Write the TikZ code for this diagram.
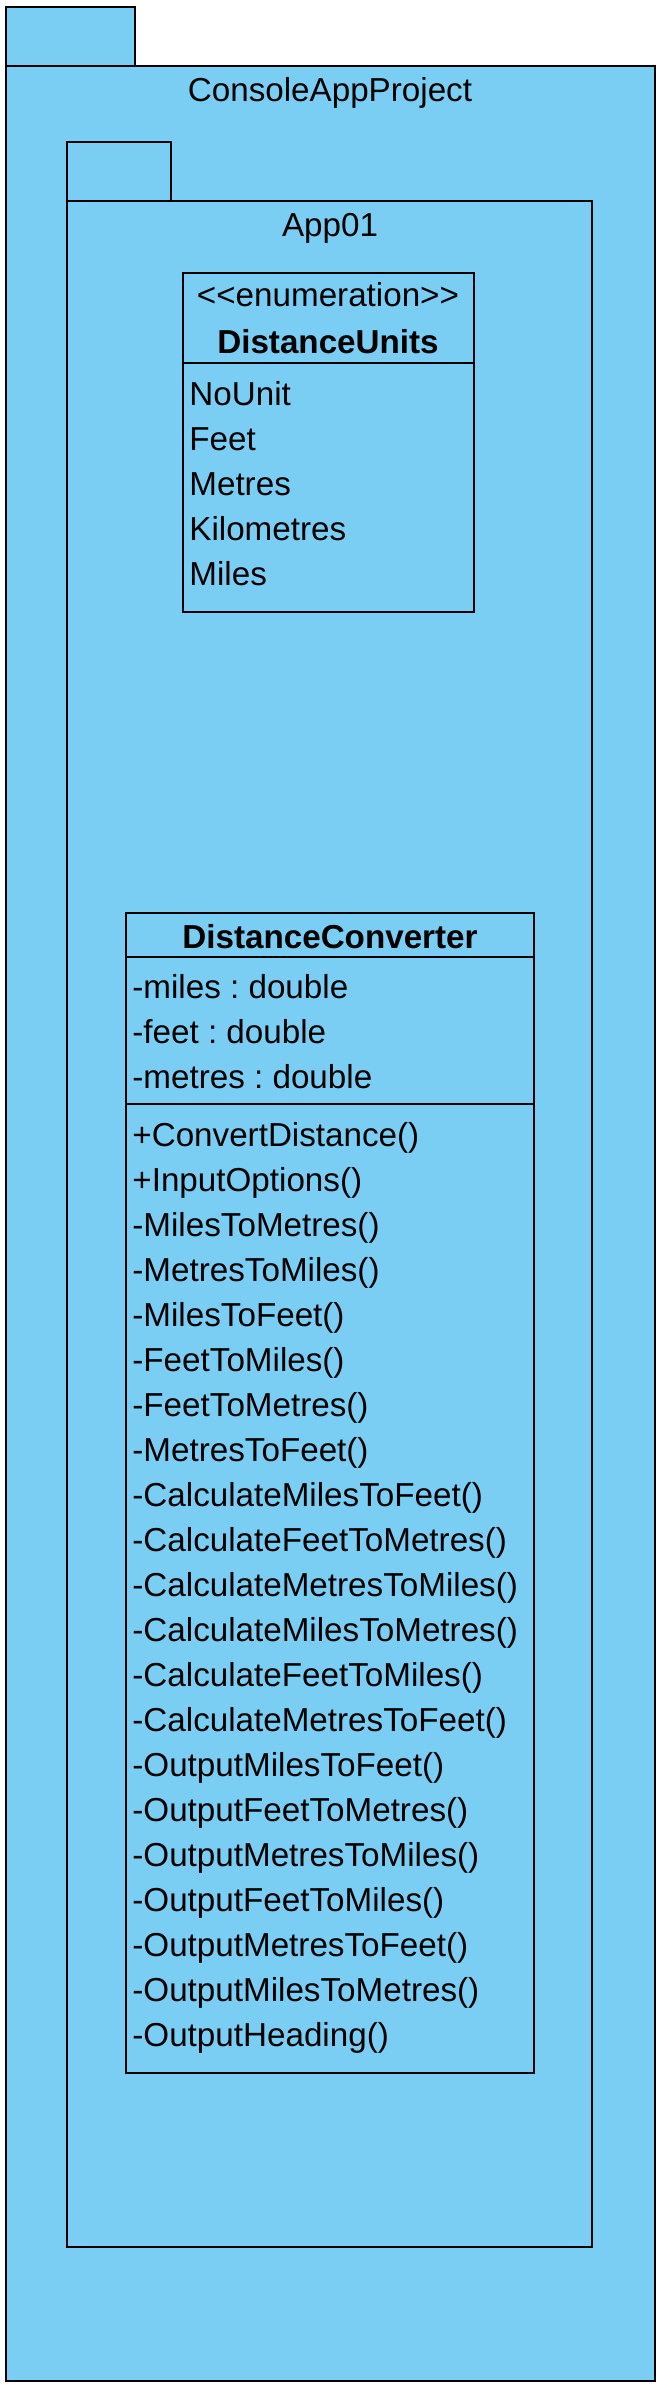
\documentclass[tikz,border=0pt]{standalone}
\usepackage{fontspec}
\setmainfont{Liberation Sans}
\frenchspacing
\definecolor{PackageBlue}{HTML}{7ACEF4}

\begin{document}
\begin{tikzpicture}[x=1pt,y=-1pt,line width=2.8pt,
  pkg/.style={draw,fill=PackageBlue},
  cls/.style={draw},
  lbl/.style={inner sep=0pt,anchor=base west,font=\fontsize{33.2}{40}\selectfont},
  ttl/.style={inner sep=0pt,anchor=base,font=\fontsize{33.2}{40}\selectfont}]
  \useasboundingbox (0,0) rectangle (666,2397);
  % ConsoleAppProject package
  \draw[pkg] (6,7) rectangle (135,66);
  \draw[pkg] (6,66) rectangle (655,2381);
  \node[ttl] (proj) at (330,102) {ConsoleAppProject};
  % App01 package
  \draw[pkg] (67,142) rectangle (171,201);
  \draw[pkg] (67,201) rectangle (592,2247);
  \node[ttl] (app) at (330,237) {App01};
  % enumeration
  \draw[cls] (183,273) rectangle (474,612);
  \draw (183,363) -- (474,363);
  \node[ttl] (stereo) at (328,307) {<{}<enumeration>{}>};
  \node[ttl,font=\fontsize{33.2}{40}\selectfont\bfseries] (units) at (328,353) {DistanceUnits};
  \node[lbl] (nounit) at (188,405) {NoUnit};
  \node[lbl] (feet) at (188,450) {Feet};
  \node[lbl] (metres) at (188,495) {Metres};
  \node[lbl] (km) at (188,540) {Kilometres};
  \node[lbl] (miles) at (188,585) {Miles};
  % converter class
  \draw[cls] (126,913) rectangle (534,2073);
  \draw (126,957) -- (534,957);
  \draw (126,1104) -- (534,1104);
  \node[ttl,font=\fontsize{33.2}{40}\selectfont\bfseries] (conv) at (330,948) {DistanceConverter};
  \node[lbl] (amiles) at (131,998) {-miles : double};
  \node[lbl] (afeet) at (131,1043) {-feet : double};
  \node[lbl] (ametres) at (131,1088) {-metres : double};
  \node[lbl] (m01) at (131,1146) {+ConvertDistance()};
  \node[lbl] (m02) at (131,1191) {+InputOptions()};
  \node[lbl] (m03) at (131,1236) {-MilesToMetres()};
  \node[lbl] (m04) at (131,1281) {-MetresToMiles()};
  \node[lbl] (m05) at (131,1326) {-MilesToFeet()};
  \node[lbl] (m06) at (131,1371) {-FeetToMiles()};
  \node[lbl] (m07) at (131,1416) {-FeetToMetres()};
  \node[lbl] (m08) at (131,1461) {-MetresToFeet()};
  \node[lbl] (m09) at (131,1506) {-CalculateMilesToFeet()};
  \node[lbl] (m10) at (131,1551) {-CalculateFeetToMetres()};
  \node[lbl] (m11) at (131,1596) {-CalculateMetresToMiles()};
  \node[lbl] (m12) at (131,1641) {-CalculateMilesToMetres()};
  \node[lbl] (m13) at (131,1686) {-CalculateFeetToMiles()};
  \node[lbl] (m14) at (131,1731) {-CalculateMetresToFeet()};
  \node[lbl] (m15) at (131,1776) {-OutputMilesToFeet()};
  \node[lbl] (m16) at (131,1821) {-OutputFeetToMetres()};
  \node[lbl] (m17) at (131,1866) {-OutputMetresToMiles()};
  \node[lbl] (m18) at (131,1911) {-OutputFeetToMiles()};
  \node[lbl] (m19) at (131,1956) {-OutputMetresToFeet()};
  \node[lbl] (m20) at (131,2001) {-OutputMilesToMetres()};
  \node[lbl] (m21) at (131,2046) {-OutputHeading()};
\end{tikzpicture}
\end{document}
